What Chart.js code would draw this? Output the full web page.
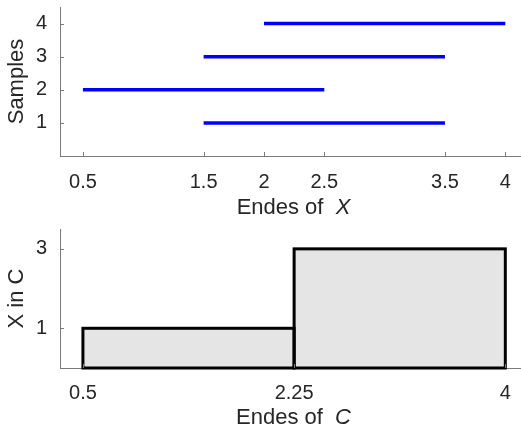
<!DOCTYPE html>
<html>
<head>
<meta charset="utf-8">
<script src="https://cdn.jsdelivr.net/npm/chart.js@4/dist/chart.umd.min.js"></script>
<style>
  html, body { margin: 0; padding: 0; background: #fff; }
  #wrap { position: relative; width: 521px; height: 430px; }
  .panel { position: absolute; left: 0; width: 521px; height: 215px; }
</style>
</head>
<body>
<div id="wrap">
  <div class="panel" style="top:0"><canvas id="samples-canvas" width="521" height="215"></canvas></div>
  <div class="panel" style="top:215px"><canvas id="counts-canvas" width="521" height="215"></canvas></div>
</div>
<script>
// 样本区间：每个样本的起点和终点
const sampleIds = [1, 2, 3, 4];
const sampleStarts = [1.5, 0.5, 1.5, 2];
const sampleEnds = [3.5, 2.5, 3.5, 4];
const topXTicks = [0.5, 1.5, 2, 2.5, 3.5, 4];
const topYTicks = [1, 2, 3, 4];

// C 的分箱边界与每箱计数
const binEdges = [0.5, 2.25, 4];
const binCounts = [1, 3];
const bottomYTicks = [1, 3];

const FONT = '"Liberation Sans", Arial, Helvetica, sans-serif';
const TEXT_COLOR = '#262626';
const AXIS_COLOR = '#7a7a7a';

/**
 * 刻度朝内绘制（短线，指向绘图区）
 */
const inwardTicks = {
  id: 'inwardTicks',
  afterDraw(chart) {
    var ctx = chart.ctx;
    var area = chart.chartArea;
    var sx = chart.scales.x, sy = chart.scales.y;
    ctx.save();
    ctx.strokeStyle = AXIS_COLOR;
    ctx.lineWidth = 1;
    ctx.beginPath();
    sx.ticks.forEach((t, i) => {
      var px = Math.round(sx.getPixelForTick(i)) + 0.5;
      ctx.moveTo(px, area.bottom);
      ctx.lineTo(px, area.bottom - 4);
    });
    sy.ticks.forEach((t, i) => {
      var py = Math.round(sy.getPixelForTick(i)) + 0.5;
      ctx.moveTo(area.left, py);
      ctx.lineTo(area.left + 4, py);
    });
    ctx.stroke();
    ctx.restore();
  }
};

/**
 * x 轴标题：支持正体/斜体混排
 */
const mixedXTitle = {
  id: 'mixedXTitle',
  afterDraw(chart, args, opts) {
    if (!opts || !opts.parts) return;
    var ctx = chart.ctx;
    var area = chart.chartArea;
    ctx.save();
    ctx.fillStyle = TEXT_COLOR;
    ctx.textBaseline = 'middle';
    ctx.textAlign = 'left';
    var fonts = opts.parts.map(p => (p.italic ? 'italic ' : '') + '22px ' + FONT);
    var widths = opts.parts.map((p, i) => {
      ctx.font = fonts[i];
      return ctx.measureText(p.text).width;
    });
    var total = widths.reduce((a, b) => a + b, 0);
    var x = (area.left + area.right) / 2 + (opts.shift || 0) - total / 2;
    var y = area.bottom + opts.offset;
    opts.parts.forEach((p, i) => {
      ctx.font = fonts[i];
      ctx.fillText(p.text, x, y);
      x += widths[i];
    });
    ctx.restore();
  }
};

/**
 * 直方图边框：沿柱子边界居中描边，相邻柱共用一条边
 */
const barOutline = {
  id: 'barOutline',
  afterDatasetsDraw(chart) {
    var ctx = chart.ctx;
    ctx.save();
    ctx.strokeStyle = '#000';
    ctx.lineWidth = 3;
    ctx.lineJoin = 'miter';
    chart.getDatasetMeta(0).data.forEach(bar => {
      var p = bar.getProps(['x', 'y', 'base', 'width'], true);
      ctx.strokeRect(p.x - p.width / 2, p.y, p.width, p.base - p.y);
    });
    ctx.restore();
  }
};

// 固定轴尺寸，并去掉刻度文字带来的额外边距
function xScale(ticks, axisHeight, padding) {
  return {
    type: 'linear',
    min: 0.31,
    max: 4.13,
    offset: false,
    afterBuildTicks: s => { s.ticks = ticks.map(v => ({ value: v })); },
    afterFit: s => {
      s.height = axisHeight;
      s.paddingLeft = 0;
      s.paddingRight = 0;
    },
    grid: { display: false, drawTicks: false, offset: false },
    border: { display: true, color: AXIS_COLOR, width: 1 },
    ticks: {
      color: TEXT_COLOR,
      font: { family: FONT, size: 20 },
      padding: padding,
      maxRotation: 0,
      autoSkip: false,
      callback: v => String(v)
    }
  };
}

function yScale(ticks, max, title) {
  return {
    type: 'linear',
    min: 0,
    max: max,
    afterBuildTicks: s => { s.ticks = ticks.map(v => ({ value: v })); },
    afterFit: s => {
      s.width = 60;
      s.paddingTop = 0;
      s.paddingBottom = 0;
    },
    grid: { display: false, drawTicks: false },
    border: { display: true, color: AXIS_COLOR, width: 1 },
    ticks: {
      color: TEXT_COLOR,
      font: { family: FONT, size: 20 },
      padding: 13,
      callback: v => String(v)
    },
    title: {
      display: true,
      text: title,
      color: TEXT_COLOR,
      font: { family: FONT, size: 22 },
      padding: { top: 4, bottom: 0 }
    }
  };
}

// 上图：每个样本一条水平线段
new Chart(document.getElementById('samples-canvas'), {
  type: 'scatter',
  data: {
    datasets: sampleIds.map((id, i) => ({
      label: 'Sample ' + id,
      data: [{ x: sampleStarts[i], y: id }, { x: sampleEnds[i], y: id }],
      showLine: true,
      borderColor: '#0000ff',
      borderWidth: 3.5,
      borderCapStyle: 'butt',
      pointRadius: 0,
      pointHoverRadius: 0
    }))
  },
  options: {
    responsive: false,
    animation: false,
    layout: { padding: { top: 7, right: 0, bottom: 0, left: 0 } },
    scales: {
      x: xScale(topXTicks, 59, 14),
      y: yScale(topYTicks, 4.5, 'Samples')
    },
    plugins: {
      legend: { display: false },
      tooltip: { enabled: false },
      mixedXTitle: { parts: [{ text: 'Endes of  ' }, { text: 'X', italic: true }], offset: 52, shift: 3 }
    }
  },
  plugins: [inwardTicks, mixedXTitle]
});

// 下图：C 的直方图，柱宽等于分箱宽度
new Chart(document.getElementById('counts-canvas'), {
  type: 'bar',
  data: {
    datasets: [{
      label: 'X in C',
      data: binCounts.map((c, i) => ({ x: (binEdges[i] + binEdges[i + 1]) / 2, y: c })),
      backgroundColor: '#e5e5e5',
      borderWidth: 0,
      barPercentage: 1,
      categoryPercentage: 1
    }]
  },
  options: {
    responsive: false,
    animation: false,
    layout: { padding: { top: 14, right: 0, bottom: 0, left: 0 } },
    scales: {
      x: xScale(binEdges, 62, 13),
      y: yScale(bottomYTicks, 3.5, 'X in C')
    },
    plugins: {
      legend: { display: false },
      tooltip: { enabled: false },
      mixedXTitle: { parts: [{ text: 'Endes of  ' }, { text: 'C', italic: true }], offset: 50, shift: 3 }
    }
  },
  plugins: [inwardTicks, barOutline, mixedXTitle]
});
</script>
</body>
</html>
